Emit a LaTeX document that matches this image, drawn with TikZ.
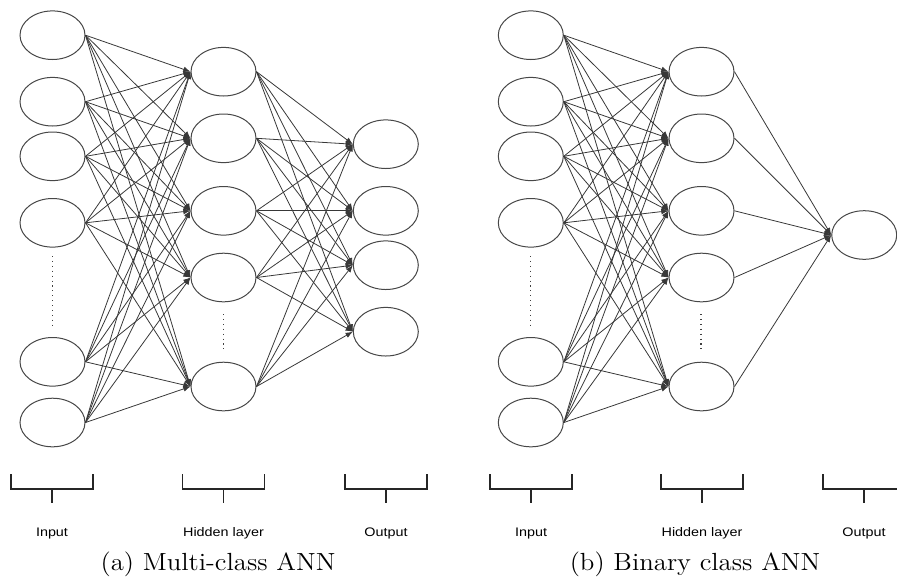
\documentclass[tikz,border=0pt]{standalone}
\usepackage{fontspec}
\usepackage{graphicx}
\newfontfamily\labelfont{Liberation Sans}
\usetikzlibrary{shapes.geometric,arrows.meta}
\begin{document}
\begin{tikzpicture}[x=0.5pt,y=-0.5pt,
  neuron/.style={ellipse,draw=black!72,line width=0.5pt,minimum width=32.5pt,minimum height=24.3pt,inner sep=0pt},
  link/.style={draw=black!78,line width=0.4pt,-{Latex[length=3.6pt,width=2.8pt]}},
  bracket/.style={draw=black!85,line width=0.65pt},
  gap/.style={draw=black!75,line width=0.6pt,dash pattern=on 0.55pt off 1.9pt},
  layername/.style={anchor=base,inner sep=0pt,font=\labelfont\fontsize{6.2}{7}\selectfont},
  caption/.style={anchor=base,inner sep=0pt,font=\fontsize{12.4}{14}\selectfont}]
\useasboundingbox (0,0) rectangle (897,580);
\clip (0,0) rectangle (897,580);

% ---------- (a) multi-class network ----------
\foreach \n/\y in {1/35.2,2/101.7,3/156.3,4/222.8,5/361.8,6/422.5}
  \node[neuron] (aI\n) at (52.5,\y) {};
\foreach \n/\y in {1/71.7,2/138.3,3/210.8,4/277.5,5/386.5}
  \node[neuron] (aH\n) at (223.5,\y) {};
\foreach \n/\y in {1/144.2,2/210.8,3/265.2,4/331.7}
  \node[neuron] (aO\n) at (385.8,\y) {};

\foreach \i in {1,...,6}
  \foreach \j in {1,...,5}
    \draw[link] (aI\i.east) -- (aH\j.west);
\foreach \i in {1,...,5}
  \foreach \j in {1,...,4}
    \draw[link] (aH\i.east) -- (aO\j.west);

\draw[gap] (52.5,256) -- (52.5,326);
\draw[gap] (223.5,314) -- (223.5,351);

% ---------- (b) binary network ----------
\foreach \n/\y in {1/35.2,2/101.7,3/156.3,4/222.8,5/361.8,6/422.5}
  \node[neuron] (bI\n) at (530.8,\y) {};
\foreach \n/\y in {1/71.7,2/138.3,3/210.8,4/277.5,5/386.5}
  \node[neuron] (bH\n) at (701.5,\y) {};
\node[neuron] (bO) at (864.2,235) {};

\foreach \i in {1,...,6}
  \foreach \j in {1,...,5}
    \draw[link] (bI\i.east) -- (bH\j.west);
\foreach \i in {1,...,5}
  \draw[link] (bH\i.east) -- (bO.west);

\draw[gap] (530.5,256) -- (530.5,326);
\draw[gap] (701,314) -- (701,351);

% ---------- layer brackets and names ----------
\foreach \cx/\txt in {52/Input,223.5/Hidden layer,386/Output,531/Input,702/Hidden layer,864/Output}{
  \draw[bracket] (\cx-41,474) -- (\cx-41,489) -- (\cx+41,489) -- (\cx+41,474);
  \draw[bracket] (\cx,489) -- (\cx,503);
  \node[layername] at (\cx,536) {\scalebox{1.16}[1]{\txt}};
}

% ---------- captions ----------
\node[caption] (capa) at (218,570) {\scalebox{1.08}[1]{(a) Multi-class ANN}};
\node[caption] (capb) at (695,570) {\scalebox{1.08}[1]{(b) Binary class ANN}};
\end{tikzpicture}
\end{document}
